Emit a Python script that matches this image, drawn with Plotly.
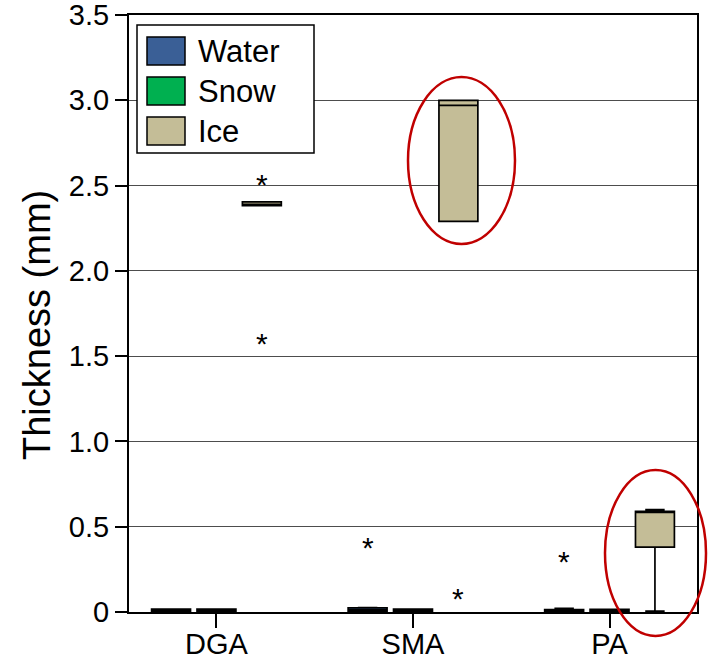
import plotly.graph_objects as go

# ---- data ---------------------------------------------------------------
categories = ["DGA", "SMA", "PA"]
series = ["Water", "Snow", "Ice"]

water_lower = [0.0, 0.0, 0.0]
water_q1 = [0.0, 0.003, 0.0]
water_median = [0.008, 0.012, 0.006]
water_q3 = [0.017, 0.024, 0.014]
water_upper = [0.017, 0.026, 0.022]

snow_lower = [0.0, 0.0, 0.0]
snow_q1 = [0.0, 0.0, 0.0]
snow_median = [0.008, 0.008, 0.007]
snow_q3 = [0.017, 0.017, 0.015]
snow_upper = [0.017, 0.017, 0.015]

ice_lower = [2.382, 2.29, 0.005]
ice_q1 = [2.382, 2.29, 0.38]
ice_median = [2.39, 2.97, 0.59]
ice_q3 = [2.405, 3.0, 0.59]
ice_upper = [2.405, 3.0, 0.60]

water_outlier_cat = ["SMA", "PA"]
water_outlier_val = [0.40, 0.32]
snow_outlier_cat = []
snow_outlier_val = []
ice_outlier_cat = ["DGA", "DGA", "SMA"]
ice_outlier_val = [2.53, 1.60, 0.10]

y_ticks = [0, 0.5, 1.0, 1.5, 2.0, 2.5, 3.0, 3.5]
y_tick_text = ["0", "0.5", "1.0", "1.5", "2.0", "2.5", "3.0", "3.5"]

# ---- style --------------------------------------------------------------
FONT = "Arial, Liberation Sans, sans-serif"
colors = {"Water": "#3A5F96", "Snow": "#00B050", "Ice": "#C4BD97"}
offsets = {"Water": -0.231, "Snow": 0.0, "Ice": 0.231}
BOX_W = 0.198

stats = {
    "Water": (water_lower, water_q1, water_median, water_q3, water_upper),
    "Snow": (snow_lower, snow_q1, snow_median, snow_q3, snow_upper),
    "Ice": (ice_lower, ice_q1, ice_median, ice_q3, ice_upper),
}
outliers = {
    "Water": (water_outlier_cat, water_outlier_val),
    "Snow": (snow_outlier_cat, snow_outlier_val),
    "Ice": (ice_outlier_cat, ice_outlier_val),
}

fig = go.Figure()
for s in series:
    lo, q1, med, q3, hi = stats[s]
    xpos = [categories.index(c) + offsets[s] for c in categories]
    fig.add_trace(go.Box(
        x=xpos, lowerfence=lo, q1=q1, median=med, q3=q3, upperfence=hi,
        width=BOX_W, whiskerwidth=0.5,
        fillcolor=colors[s], line=dict(color="black", width=1.7),
        name=s, showlegend=False, hoverinfo="skip",
    ))

annotations = []

# extreme values as asterisks (glyph centred on the value)
for s in series:
    cats, vals = outliers[s]
    for c, v in zip(cats, vals):
        annotations.append(dict(
            xref="x", yref="y", x=categories.index(c) + offsets[s], y=v,
            text="*", showarrow=False, xanchor="center", yanchor="middle",
            yshift=-4, font=dict(family=FONT, size=30, color="black")))

# plot geometry in pixels (for paper-referenced decorations)
W, H = 708, 659
ML, MR, MT, MB = 129, 11, 15, 47
PW, PH = W - ML - MR, H - MT - MB


def px(x):
    return (x - ML) / PW


def py(y):
    return (H - MB - y) / PH


shapes = []

# highlight ellipses
for (x0, x1, y0, y1) in [(408, 515, 77, 244), (605, 706, 470, 636)]:
    shapes.append(dict(type="circle", xref="paper", yref="paper",
                       x0=px(x0), x1=px(x1), y0=py(y1), y1=py(y0),
                       line=dict(color="#C00000", width=2.5), layer="above"))

# legend
shapes.append(dict(type="rect", xref="paper", yref="paper",
                   x0=px(137), x1=px(314), y0=py(153), y1=py(25),
                   fillcolor="white", line=dict(color="black", width=1.5),
                   layer="above"))
for i, s in enumerate(series):
    yc = 51 + 40 * i
    shapes.append(dict(type="rect", xref="paper", yref="paper",
                       x0=px(147), x1=px(185), y0=py(yc + 14), y1=py(yc - 14),
                       fillcolor=colors[s], line=dict(color="black", width=1.5),
                       layer="above"))
    annotations.append(dict(xref="paper", yref="paper", x=px(196), y=py(yc),
                            text=s, showarrow=False, xanchor="left",
                            yanchor="middle",
                            font=dict(family=FONT, size=31, color="black")))

# y-axis title
annotations.append(dict(xref="paper", yref="paper", x=px(37), y=py(325),
                        text="Thickness (mm)", textangle=-90, showarrow=False,
                        xanchor="center", yanchor="middle",
                        font=dict(family=FONT, size=38, color="black")))

fig.update_layout(
    width=W, height=H,
    margin=dict(l=ML, r=MR, t=MT, b=MB, pad=0, autoexpand=False),
    paper_bgcolor="white", plot_bgcolor="white",
    boxmode="overlay",
    shapes=shapes, annotations=annotations,
    showlegend=False,
    font=dict(family=FONT, color="black"),
)
fig.update_xaxes(
    range=[-0.445, 2.445], tickmode="array",
    tickvals=list(range(len(categories))), ticktext=categories,
    ticks="outside", ticklen=14, tickwidth=1.5, tickcolor="black",
    showline=True, linecolor="black", linewidth=2, mirror=True,
    showgrid=False, zeroline=False, automargin=False,
    ticklabelstandoff=-9, ticklabeloverflow="allow",
    tickfont=dict(family=FONT, size=29, color="black"),
)
fig.update_yaxes(
    range=[0, 3.5], tickmode="array", tickvals=y_ticks, ticktext=y_tick_text,
    ticks="outside", ticklen=12, tickwidth=1.5, tickcolor="black",
    showline=True, linecolor="black", linewidth=2, mirror=True,
    showgrid=True, gridcolor="#4d4d4d", gridwidth=1, zeroline=False,
    automargin=False, ticklabeloverflow="allow",
    tickfont=dict(family=FONT, size=29, color="black"),
)

fig.write_html("out.html")
